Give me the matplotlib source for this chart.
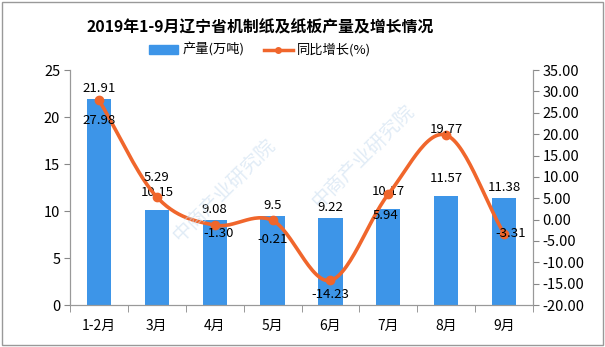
import numpy as np
import matplotlib
matplotlib.use("Agg")
import matplotlib.pyplot as plt
from matplotlib.lines import Line2D
from matplotlib.patches import Patch, Rectangle

plt.rcParams['font.family'] = ['Noto Sans CJK SC', 'DejaVu Sans']

months = ['1-2月', '3月', '4月', '5月', '6月', '7月', '8月', '9月']
output = [21.91, 10.15, 9.08, 9.5, 9.22, 10.17, 11.57, 11.38]
growth = [27.98, 5.29, -1.30, -0.21, -14.23, 5.94, 19.77, -3.31]

bar_color = '#3d95e8'
line_color = '#f0662c'


def catmull_rom(x, y, n=30):
    # smooth curve through every point, like the spreadsheet "smoothed line"
    x = np.asarray(x, float)
    y = np.asarray(y, float)
    px = np.concatenate([[2 * x[0] - x[1]], x, [2 * x[-1] - x[-2]]])
    py = np.concatenate([[2 * y[0] - y[1]], y, [2 * y[-1] - y[-2]]])
    xs, ys = [], []
    t = np.linspace(0, 1, n)
    for i in range(1, len(px) - 2):
        for p, out in ((px, xs), (py, ys)):
            p0, p1, p2, p3 = p[i - 1], p[i], p[i + 1], p[i + 2]
            out.append(0.5 * ((2 * p1) + (-p0 + p2) * t
                              + (2 * p0 - 5 * p1 + 4 * p2 - p3) * t ** 2
                              + (-p0 + 3 * p1 - 3 * p2 + p3) * t ** 3))
    return np.concatenate(xs), np.concatenate(ys)


fig = plt.figure(figsize=(6.05, 3.47), dpi=100)
ax = fig.add_axes([0.1157, 0.121, 0.7653, 0.677])
ax2 = ax.twinx()

x = np.arange(len(months))
ax.bar(x, output, width=0.42, color=bar_color, zorder=2)
ax.set_xlim(-0.5, len(months) - 0.5)
ax.set_ylim(0, 25)
ax.set_yticks(np.arange(0, 26, 5))
ax.set_xticks(x)
ax.set_xticklabels(months)
ax.set_xticks(np.arange(-0.5, len(months), 1), minor=True)
ax.tick_params(axis='x', which='major', length=0, pad=10, labelsize=10)
ax.tick_params(axis='x', which='minor', length=5, color='#888888')
ax.tick_params(axis='y', length=4, color='#888888', labelsize=10.5, pad=3)

sx, sy = catmull_rom(x, growth)
ax2.plot(sx, sy, color=line_color, lw=2.6, zorder=3, solid_capstyle='round')
ax2.plot(x, growth, 'o', color=line_color, ms=6, zorder=4)
ax2.set_ylim(-20, 35)
ax2.set_yticks(np.arange(-20, 36, 5))
ax2.set_yticklabels(['%.2f' % v for v in np.arange(-20, 36, 5)])
ax2.tick_params(axis='y', length=4, color='#888888', labelsize=10.5, pad=3)

for a in (ax, ax2):
    a.spines['top'].set_visible(False)
    for s in ('left', 'right', 'bottom'):
        a.spines[s].set_color('#999999')

# bar values above each bar
bar_dy = [3, 8, 3, 3, 3, 8, 8, 3]
for xi, v, dy in zip(x, output, bar_dy):
    ax.annotate('%g' % v, (xi, v), xytext=(0, dy), textcoords='offset points',
                ha='center', va='bottom', fontsize=9.5, zorder=5)

# growth values beside each point
offsets = [(0, -15), (0, 14), (3, -6), (0, -14), (0, -10), (-2, -15), (0, 4), (5, 0)]
for xi, v, (dx, dy) in zip(x, growth, offsets):
    ax2.annotate('%.2f' % v, (xi, v), xytext=(dx, dy), textcoords='offset points',
                 ha='center', va='center', fontsize=9.5, zorder=5)

fig.text(0.43, 0.922, '2019年1-9月辽宁省机制纸及纸板产量及增长情况',
         ha='center', va='center', fontsize=11.4, fontweight='bold')

handles = [Patch(color=bar_color),
           Line2D([], [], color=line_color, lw=2.5, marker='o', ms=4)]
fig.legend(handles, ['产量(万吨)', '同比增长(%)'], loc='center',
           bbox_to_anchor=(0.43, 0.856), ncol=2, frameon=False, fontsize=9.5,
           handlelength=2.2, handleheight=0.6, columnspacing=1.5, handletextpad=0.3)

# faint watermark
for wx, wy in [(0.37, 0.45), (0.6, 0.55)]:
    fig.text(wx, wy, '中商产业研究院', rotation=45, fontsize=14, color='#c8dcef',
             alpha=0.55, ha='center', va='center', zorder=10)

fig.patches.append(Rectangle((0.004, 0.006), 0.992, 0.988, transform=fig.transFigure,
                             fill=False, edgecolor='#999999', lw=1))

fig.savefig('out.png', dpi=100)
